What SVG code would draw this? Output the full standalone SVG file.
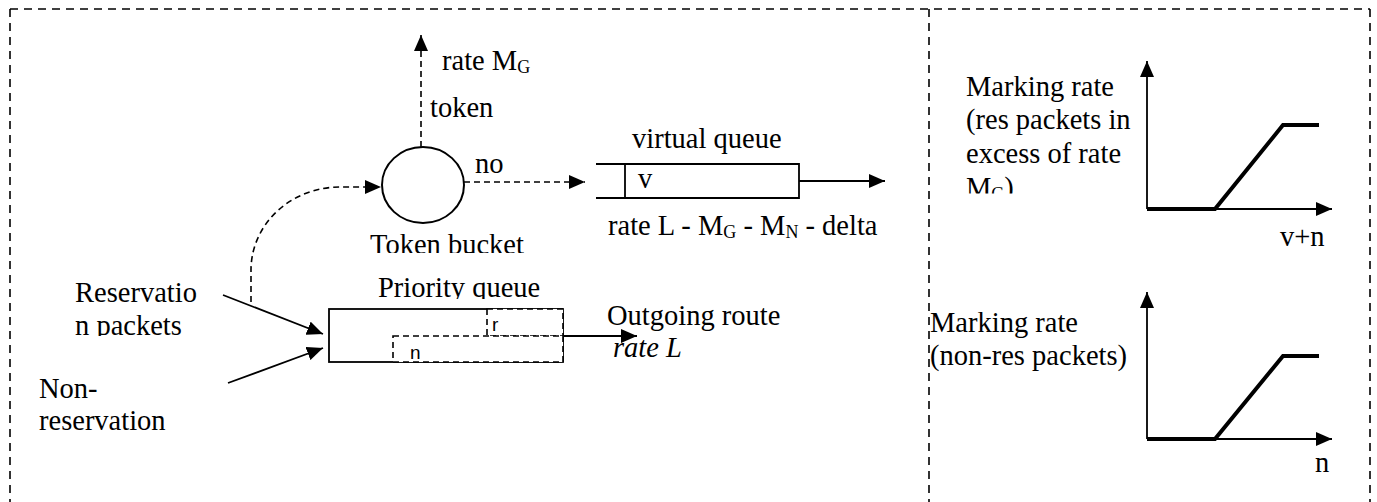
<svg xmlns="http://www.w3.org/2000/svg" width="1377" height="502" viewBox="0 0 1377 502">
<style>
text{font-family:"Liberation Serif","Times New Roman",serif;font-size:28.5px;fill:#000}
.sub{font-size:18px}
.sans{font-family:"Liberation Sans",Arial,sans-serif;font-size:19px}
.border{fill:none;stroke:#000;stroke-width:1.6;stroke-dasharray:8 6}
.dash{fill:none;stroke:#000;stroke-width:1.6;stroke-dasharray:6 4}
.solid{fill:none;stroke:#000;stroke-width:1.8}
.thick{fill:none;stroke:#000;stroke-width:4;stroke-linejoin:miter}
.dbox{fill:#fff;stroke:#000;stroke-width:1.6;stroke-dasharray:6 4}
</style>
<defs>
<marker id="ah" markerUnits="userSpaceOnUse" markerWidth="16" markerHeight="14" refX="16" refY="7" orient="auto">
<path d="M0,0 L16,7 L0,14 z" fill="#000"/>
</marker>
<clipPath id="clipTB"><rect x="360" y="220" width="200" height="33"/></clipPath>
<clipPath id="clipRes"><rect x="60" y="270" width="150" height="66"/></clipPath>
<clipPath id="clipPQ"><rect x="370" y="265" width="200" height="34"/></clipPath>
<clipPath id="clipMG"><rect x="960" y="60" width="200" height="133.5"/></clipPath>
</defs>

<g id="frame">
<line class="border" x1="10" y1="9" x2="1370" y2="9"/>
<line class="border" x1="10" y1="9" x2="10" y2="502"/>
<line class="border" x1="929" y1="9" x2="929" y2="502"/>
<line class="border" x1="1370" y1="9" x2="1370" y2="502"/>
</g>

<g id="token-bucket">
<ellipse cx="423" cy="185" rx="41" ry="38" fill="none" stroke="#000" stroke-width="2"/>
<text x="370" y="254" clip-path="url(#clipTB)">Token bucket</text>
<text x="430" y="117">token</text>
<text x="442" y="70">rate M<tspan class="sub" dy="3">G</tspan></text>
<text x="475" y="173">no</text>
</g>

<g id="virtual-queue">
<polyline class="solid" points="596,164 799,164 799,198 596,198"/>
<line class="solid" x1="625" y1="164" x2="625" y2="198"/>
<text x="638" y="188">v</text>
<text x="632" y="148">virtual queue</text>
<text x="608" y="235">rate L - M<tspan class="sub" dy="3">G</tspan><tspan dy="-3"> - M</tspan><tspan class="sub" dy="3">N</tspan><tspan dy="-3"> - delta</tspan></text>
</g>

<g id="priority-queue">
<rect class="solid" x="329" y="309" width="234" height="53"/>
<rect class="dbox" x="487" y="309" width="76" height="27"/>
<rect class="dbox" x="393" y="336" width="170" height="26"/>
<text class="sans" x="492" y="331">r</text>
<text class="sans" x="410" y="359">n</text>
<text x="378" y="297" clip-path="url(#clipPQ)">Priority queue</text>
<text x="607" y="325">Outgoing route</text>
<text x="613" y="357" font-style="italic">rate L</text>
</g>

<g id="sources">
<text x="75" y="302">Reservatio</text>
<text x="75" y="335" clip-path="url(#clipRes)">n packets</text>
<text x="39" y="398">Non-</text>
<text x="39" y="430">reservation</text>
</g>

<g id="graph-res">
<line class="solid" x1="1147" y1="209" x2="1147" y2="61" marker-end="url(#ah)"/>
<line class="solid" x1="1147" y1="209" x2="1332" y2="209" marker-end="url(#ah)"/>
<polyline class="thick" points="1147,209 1215,209 1283,125 1319,125"/>
<text x="966" y="96">Marking rate</text>
<text x="966" y="129">(res packets in</text>
<text x="966" y="163">excess of rate</text>
<text x="966" y="197" clip-path="url(#clipMG)">M<tspan class="sub" dy="3">G</tspan><tspan dy="-3">)</tspan></text>
<text x="1280" y="246">v+n</text>
</g>

<g id="graph-nonres">
<line class="solid" x1="1147" y1="439" x2="1147" y2="292" marker-end="url(#ah)"/>
<line class="solid" x1="1147" y1="439" x2="1332" y2="439" marker-end="url(#ah)"/>
<polyline class="thick" points="1147,439 1215,439 1283,356 1319,356"/>
<text x="930" y="332">Marking rate</text>
<text x="930" y="365">(non-res packets)</text>
<text x="1315" y="472">n</text>
</g>

<g id="connectors">
<line class="dash" x1="421" y1="147" x2="421" y2="35" marker-end="url(#ah)"/>
<line class="dash" x1="464" y1="182" x2="585" y2="182" marker-end="url(#ah)"/>
<path class="dash" d="M251,302 L251,270 A89,83 0 0 1 340,187 L381,187" marker-end="url(#ah)"/>
<line class="solid" x1="799" y1="181" x2="885" y2="181" marker-end="url(#ah)"/>
<line class="solid" x1="223" y1="295" x2="323" y2="334" marker-end="url(#ah)"/>
<line class="solid" x1="228" y1="383" x2="323" y2="348" marker-end="url(#ah)"/>
<line class="solid" x1="563" y1="336" x2="637" y2="336" marker-end="url(#ah)"/>
</g>
</svg>
